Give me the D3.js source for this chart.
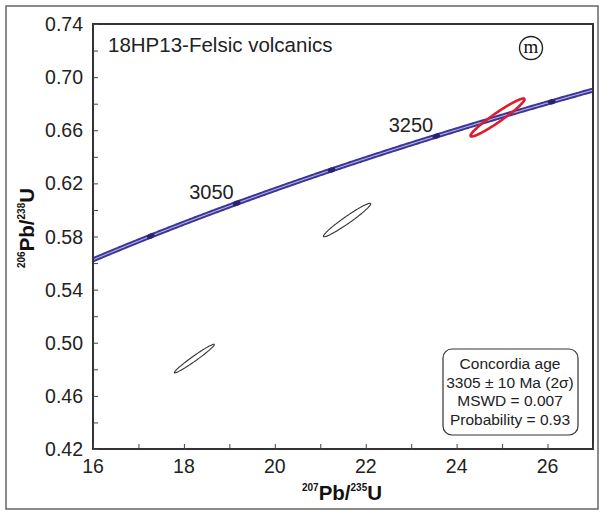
<!DOCTYPE html>
<html><head><meta charset="utf-8">
<script src="https://cdn.jsdelivr.net/npm/d3@7"></script>
<style>body{margin:0;background:#fff;} svg{display:block;font-family:"Liberation Sans",Arial,sans-serif;}</style>
</head><body>
<script>
// ---- data ----
const xTicks = [16, 18, 20, 22, 24, 26];
const yTicks = [0.42, 0.46, 0.50, 0.54, 0.58, 0.62, 0.66, 0.70, 0.74];
const ageMarks = [2950, 3050, 3150, 3250, 3350];       // Ma, marks on concordia
const ageLabels = [3050, 3250];                         // labelled ages
const ellipseX = [18.23, 21.59, 24.90];                 // 207Pb/235U centres
const ellipseY = [0.4881, 0.5924, 0.6696];              // 206Pb/238U centres
const ellipseSX = [0.44, 0.52, 0.594];
const ellipseSY = [0.0108, 0.0126, 0.0143];
const ellipseRho = [0.977, 0.967, 0.958];
const ellipseKind = ["analysis", "analysis", "concordia"];
const title = "18HP13-Felsic volcanics";
const panelTag = "m";
const resultLines = ["Concordia age", "3305 \u00b1 10 Ma (2\u03c3)", "MSWD = 0.007", "Probability = 0.93"];
const lambda238 = 1.55125e-10, lambda235 = 9.8485e-10;

// ---- layout ----
const W = 603, H = 514;
const m = {l: 93, r: 593, t: 24, b: 449};
const svg = d3.select("body").append("svg").attr("width", W).attr("height", H);
svg.append("rect").attr("x", 6).attr("y", 6).attr("width", 592).attr("height", 503)
  .attr("fill", "none").attr("stroke", "#666").attr("stroke-width", 1.5);

const x = d3.scaleLinear().domain([16, 27]).range([m.l, m.r]);
const y = d3.scaleLinear().domain([0.42, 0.74]).range([m.b, m.t]);

const defs = svg.append("defs");
defs.append("clipPath").attr("id", "clip").append("rect")
  .attr("x", m.l).attr("y", m.t).attr("width", m.r - m.l).attr("height", m.b - m.t);

// concordia
const conc = t => ({x: Math.exp(lambda235 * t * 1e6) - 1, y: Math.exp(lambda238 * t * 1e6) - 1});
const ages = d3.range(2800, 3451, 2);
const line = d3.line().x(d => x(conc(d).x)).y(d => y(conc(d).y)).curve(d3.curveCatmullRom);
const g = svg.append("g").attr("clip-path", "url(#clip)");
g.append("path").attr("d", line(ages)).attr("fill", "none").attr("stroke", "#3b3596").attr("stroke-width", 5);
g.append("path").attr("d", line(ages)).attr("fill", "none").attr("stroke", "#b3b0e6").attr("stroke-width", 1.1);

// age marks
ageMarks.forEach(a => {
  const p = conc(a), p2 = conc(a + 5);
  const ang = Math.atan2(y(p2.y) - y(p.y), x(p2.x) - x(p.x)) * 180 / Math.PI;
  g.append("ellipse").attr("cx", x(p.x)).attr("cy", y(p.y)).attr("rx", 4).attr("ry", 2.6)
    .attr("transform", `rotate(${ang},${x(p.x)},${y(p.y)})`).attr("fill", "#2a2470");
});
ageLabels.forEach(a => {
  const p = conc(a);
  svg.append("text").attr("x", x(p.x) - 3).attr("y", y(p.y) - 4).attr("text-anchor", "end")
    .attr("font-size", 20).attr("fill", "#222").text(a);
});

// ellipses
ellipseX.forEach((cx, i) => {
  const sx = ellipseSX[i], sy = ellipseSY[i], r = ellipseRho[i];
  const pts = d3.range(0, 361, 3).map(deg => {
    const t = deg * Math.PI / 180;
    return [x(cx + sx * Math.cos(t)), y(ellipseY[i] + sy * (r * Math.cos(t) + Math.sqrt(1 - r * r) * Math.sin(t)))];
  });
  const red = ellipseKind[i] === "concordia";
  g.append("path").attr("d", d3.line().curve(d3.curveCardinalClosed)(pts.slice(0, -1)))
    .attr("fill", "none").attr("stroke", red ? "#e01b2a" : "#333")
    .attr("stroke-width", red ? 2.6 : 1.1);
});

// frame and ticks
svg.append("rect").attr("x", m.l).attr("y", m.t).attr("width", m.r - m.l).attr("height", m.b - m.t)
  .attr("fill", "none").attr("stroke", "#333").attr("stroke-width", 2);
const xa = svg.append("g").attr("transform", `translate(0,${m.b})`)
  .call(d3.axisBottom(x).tickValues(d3.range(16, 27.01, 1)).tickSize(-5).tickFormat(""));
xa.select(".domain").remove();
xa.selectAll("line").attr("stroke", "#444");
const ya = svg.append("g").attr("transform", `translate(${m.l},0)`)
  .call(d3.axisLeft(y).tickValues(d3.range(0.42, 0.741, 0.02)).tickSize(-5).tickFormat(""));
ya.select(".domain").remove();
ya.selectAll("line").attr("stroke", "#444");

xTicks.forEach(v => svg.append("text").attr("x", x(v)).attr("y", 473).attr("text-anchor", "middle")
  .attr("font-size", 19.5).attr("fill", "#222").text(v));
yTicks.forEach(v => svg.append("text").attr("x", 83).attr("y", y(v) + 7).attr("text-anchor", "end")
  .attr("font-size", 19.5).attr("fill", "#222").text(v.toFixed(2)));

// axis titles
const xt = svg.append("text").attr("x", 342).attr("y", 500).attr("text-anchor", "middle")
  .attr("font-weight", "bold").attr("font-size", 20.5).attr("fill", "#111");
xt.append("tspan").attr("font-size", 10).attr("dy", -9).text("207");
xt.append("tspan").attr("dy", 9).text("Pb/");
xt.append("tspan").attr("font-size", 10).attr("dy", -9).text("235");
xt.append("tspan").attr("dy", 9).text("U");
const yt = svg.append("text").attr("transform", "translate(34,228) rotate(-90)").attr("text-anchor", "middle")
  .attr("font-weight", "bold").attr("font-size", 20.5).attr("fill", "#111");
yt.append("tspan").attr("font-size", 10).attr("dy", -9).text("206");
yt.append("tspan").attr("dy", 9).text("Pb/");
yt.append("tspan").attr("font-size", 10).attr("dy", -9).text("238");
yt.append("tspan").attr("dy", 9).text("U");

// title & tag
svg.append("text").attr("x", 108).attr("y", 52).attr("font-size", 20.5).attr("fill", "#222").text(title);
svg.append("circle").attr("cx", 531).attr("cy", 48).attr("r", 11.5).attr("fill", "none").attr("stroke", "#222").attr("stroke-width", 1.4);
svg.append("text").attr("x", 531).attr("y", 53).attr("text-anchor", "middle").attr("font-family", "Liberation Serif, serif")
  .attr("font-size", 19).attr("fill", "#111").text(panelTag);

// result box
svg.append("rect").attr("x", 443).attr("y", 349).attr("width", 135).attr("height", 86).attr("rx", 9)
  .attr("fill", "#fff").attr("stroke", "#333").attr("stroke-width", 1.2);
resultLines.forEach((s, i) => svg.append("text").attr("x", 510).attr("y", 369 + i * 18.5)
  .attr("text-anchor", "middle").attr("font-size", 15.5).attr("fill", "#222").text(s));
</script>
</body></html>
